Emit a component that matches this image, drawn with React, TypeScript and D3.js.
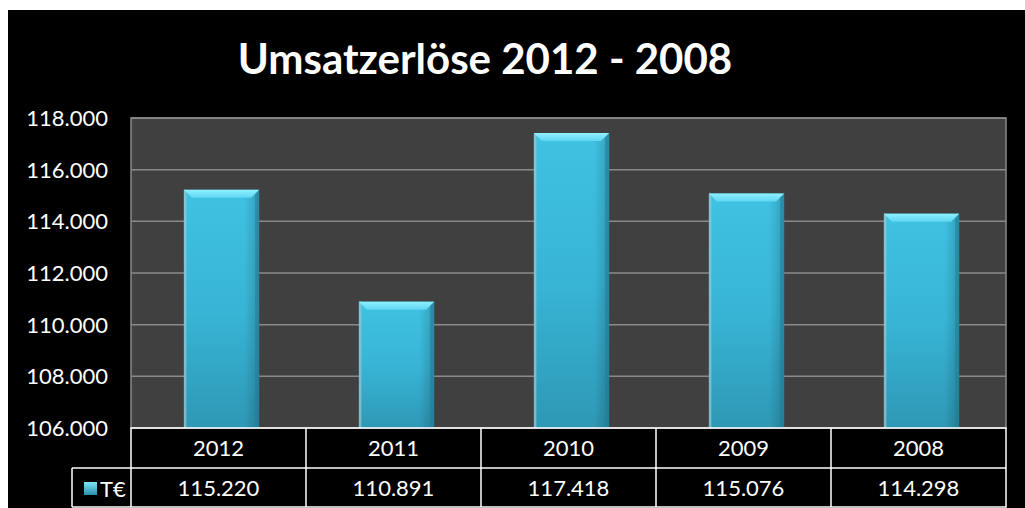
import React from "react";
import * as d3 from "d3";

const categories = ["2012", "2011", "2010", "2009", "2008"];
const values = [115220, 110891, 117418, 115076, 114298];
const valueLabels = ["115.220", "110.891", "117.418", "115.076", "114.298"];
const yTicks = [106000, 108000, 110000, 112000, 114000, 116000, 118000];
const seriesName = "T€";
const title = "Umsatzerlöse 2012 - 2008";

const W = 1025;
const H = 508;
const plot = { left: 131, right: 1006, top: 118, bottom: 428 };
const row1 = { top: 428, bottom: 468 };
const row2 = { top: 468, bottom: 507 };
const legendLeft = 72;

const fmt = (v: number) => d3.format(",")(v).replace(/,/g, ".");

export default function App() {
  const x = d3.scaleBand<string>().domain(categories).range([plot.left + 3, plot.right + 3]).paddingInner(0.57).paddingOuter(0.285);
  const band = d3.scaleBand<string>().domain(categories).range([plot.left, plot.right]);
  const y = d3.scaleLinear().domain([106000, 118000]).range([plot.bottom, plot.top]);
  const font = "Lato, 'Open Sans', sans-serif";
  const bw = x.bandwidth();

  return (
    <svg width={W} height={H} style={{ position: "fixed", left: 0, top: 0 }} fontFamily={font}>
      <defs>
        <linearGradient id="barg" x1="0" y1="0" x2="0" y2="1">
          <stop offset="0" stopColor="#3fc2e3" />
          <stop offset="0.5" stopColor="#38b5d6" />
          <stop offset="1" stopColor="#2e98b5" />
        </linearGradient>
        <linearGradient id="barh" x1="0" y1="0" x2="1" y2="0">
          <stop offset="0" stopColor="#000" stopOpacity="0.0" />
          <stop offset="0.8" stopColor="#000" stopOpacity="0.0" />
          <stop offset="1" stopColor="#000" stopOpacity="0.18" />
        </linearGradient>
        <linearGradient id="topg" x1="0" y1="0" x2="0" y2="1">
          <stop offset="0" stopColor="#8ff0ff" />
          <stop offset="1" stopColor="#5fd6f0" />
        </linearGradient>
        <linearGradient id="leg" x1="0" y1="0" x2="0" y2="1">
          <stop offset="0" stopColor="#7fe6f8" />
          <stop offset="1" stopColor="#2a8fab" />
        </linearGradient>
      </defs>
      <rect x={0} y={0} width={W} height={H} fill="#fff" />
      <rect x={8} y={10} width={W - 8} height={H - 10} fill="#000" />
      <text x={485} y={74} textAnchor="middle" fill="#fff" fontSize={42} fontWeight="bold">
        {title}
      </text>
      <rect x={plot.left} y={plot.top} width={plot.right - plot.left} height={plot.bottom - plot.top} fill="#404040" stroke="#8a8a8a" strokeWidth={1.5} />
      {yTicks.map((t) => (
        <g key={t}>
          <line x1={plot.left} x2={plot.right} y1={y(t)} y2={y(t)} stroke="#8a8a8a" strokeWidth={1.5} />
          <text x={108} y={y(t) + 8} textAnchor="end" fill="#fff" fontSize={22}>
            {fmt(t)}
          </text>
        </g>
      ))}
      {categories.map((c, i) => {
        const x0 = x(c)!;
        const yt = y(values[i]);
        const h = plot.bottom - yt;
        const bev = 8;
        return (
          <g key={c}>
            <rect x={x0} y={yt} width={bw} height={h} fill="url(#barg)" />
            <rect x={x0} y={yt} width={bw} height={h} fill="url(#barh)" />
            <rect x={x0} y={yt} width={2.5} height={h} fill="#9fc4cf" opacity={0.7} />
            <rect x={x0 + bw - 4} y={yt} width={4} height={h} fill="#237f99" opacity={0.6} />
            <path d={`M${x0},${yt} L${x0 + bw},${yt} L${x0 + bw - bev},${yt + bev} L${x0 + bev},${yt + bev} Z`} fill="url(#topg)" />
          </g>
        );
      })}
      <g stroke="#fff" strokeWidth={1.5} fill="none">
        <rect x={plot.left} y={row1.top} width={plot.right - plot.left} height={row2.bottom - row1.top} />
        <line x1={legendLeft} x2={plot.right} y1={row2.top} y2={row2.top} />
        <line x1={legendLeft} x2={legendLeft} y1={row2.top} y2={row2.bottom} />
        <line x1={legendLeft} x2={plot.left} y1={row2.bottom} y2={row2.bottom} />
        {categories.slice(1).map((c) => (
          <line key={c} x1={band(c)!} x2={band(c)!} y1={row1.top} y2={row2.bottom} />
        ))}
      </g>
      {categories.map((c, i) => {
        const cx = band(c)! + band.bandwidth() / 2;
        return (
          <g key={c} fill="#fff" fontSize={22} textAnchor="middle">
            <text x={cx} y={row1.top + 28}>{c}</text>
            <text x={cx} y={row2.top + 28}>{valueLabels[i]}</text>
          </g>
        );
      })}
      <rect x={84} y={482} width={13} height={13} fill="url(#leg)" />
      <text x={100} y={497} fill="#fff" fontSize={22}>{seriesName}</text>
    </svg>
  );
}
